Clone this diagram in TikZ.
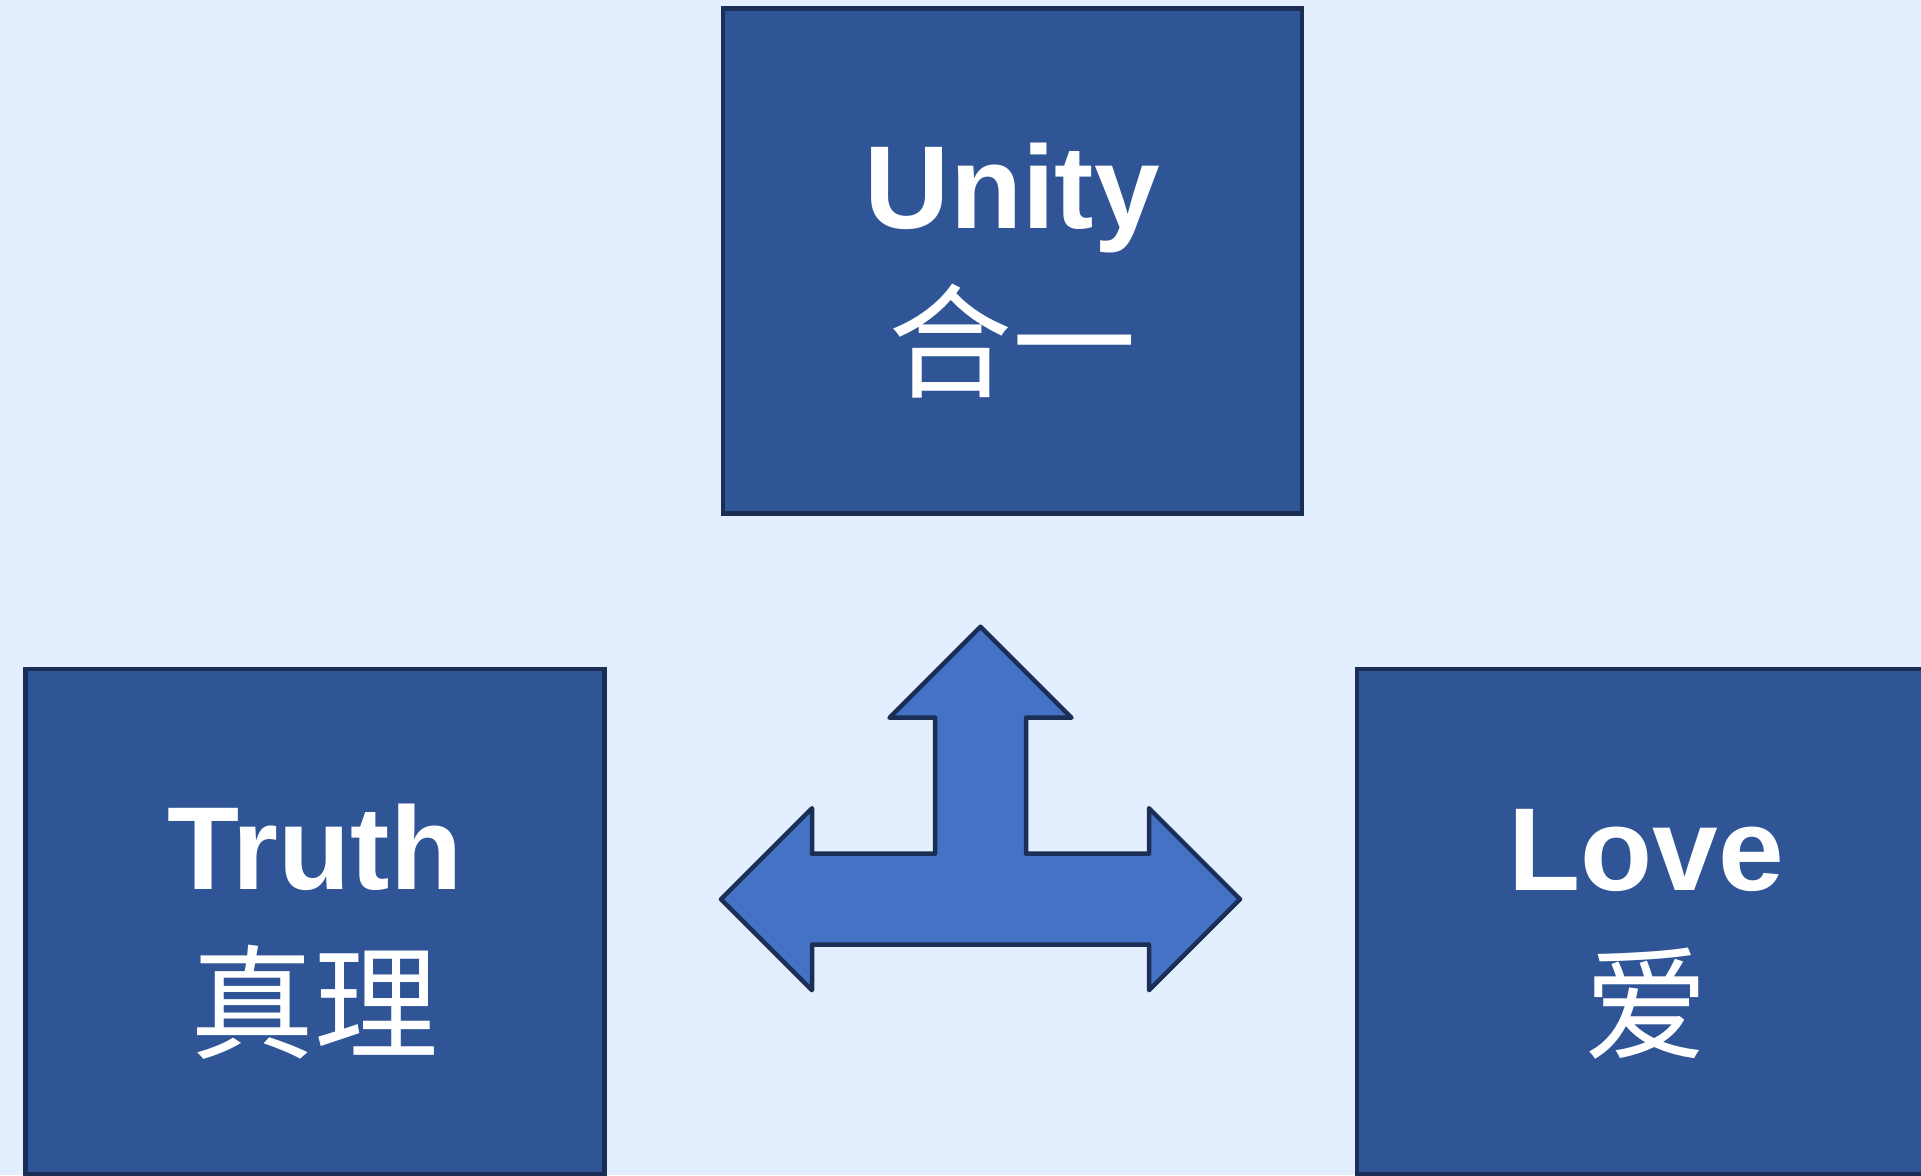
\documentclass[tikz,border=0pt]{standalone}
\usepackage{fontspec}
\setmainfont{Liberation Sans}
\newfontfamily\cjk{Noto Sans CJK SC}
\definecolor{paper}{HTML}{E3EFFE}
\definecolor{boxfill}{HTML}{2F5597}
\definecolor{boxline}{HTML}{1B2F56}
\definecolor{arrowfill}{HTML}{4472C4}
\newcommand{\hanzi}[1]{{\cjk\mdseries\fontsize{124}{160}\selectfont #1}}
\newcommand{\virtuetext}[2]{\rule{0pt}{106pt}#1\\\hanzi{#2}}

\tikzset{
  virtue/.style={
    rectangle,
    draw=boxline,
    fill=boxfill,
    line width=4.5pt,
    minimum width=579pt,
    minimum height=505pt,
    text=white,
    text centered,
    align=center,
    font=\fontsize{118}{160}\selectfont\bfseries
  },
  junction/.style={
    draw=boxline,
    fill=arrowfill,
    line width=4.5pt,
    line join=round
  },
}

\begin{document}
\begin{tikzpicture}[x=1pt,y=-1pt]
  \fill[paper] (0,0) rectangle (1921,1175);
  \useasboundingbox (0,0) rectangle (1921,1175);
  \node[virtue, anchor=center] (unity) at (1012.3,260.8) {\virtuetext{Unity}{合一}};
  \node[virtue, anchor=center] (truth) at (314.8,921.5) {\virtuetext{Truth}{真理}};
  \node[virtue, anchor=center] (love) at (1646.4,921.5) {\virtuetext{Love}{爱}};
  \coordinate (hub) at (980.5,899.2);
  \draw[junction, shift={(hub)}] (-259.5,0) -- (-168.5,-91) -- (-168.5,-45.5)
    -- (-45.5,-45.5) -- (-45.5,-181.5) -- (-91,-181.5) -- (0,-272.5)
    -- (91,-181.5) -- (45.5,-181.5) -- (45.5,-45.5) -- (168.5,-45.5)
    -- (168.5,-91) -- (259.5,0) -- (168.5,91) -- (168.5,45.5)
    -- (-168.5,45.5) -- (-168.5,91) -- cycle;
\end{tikzpicture}
\end{document}
